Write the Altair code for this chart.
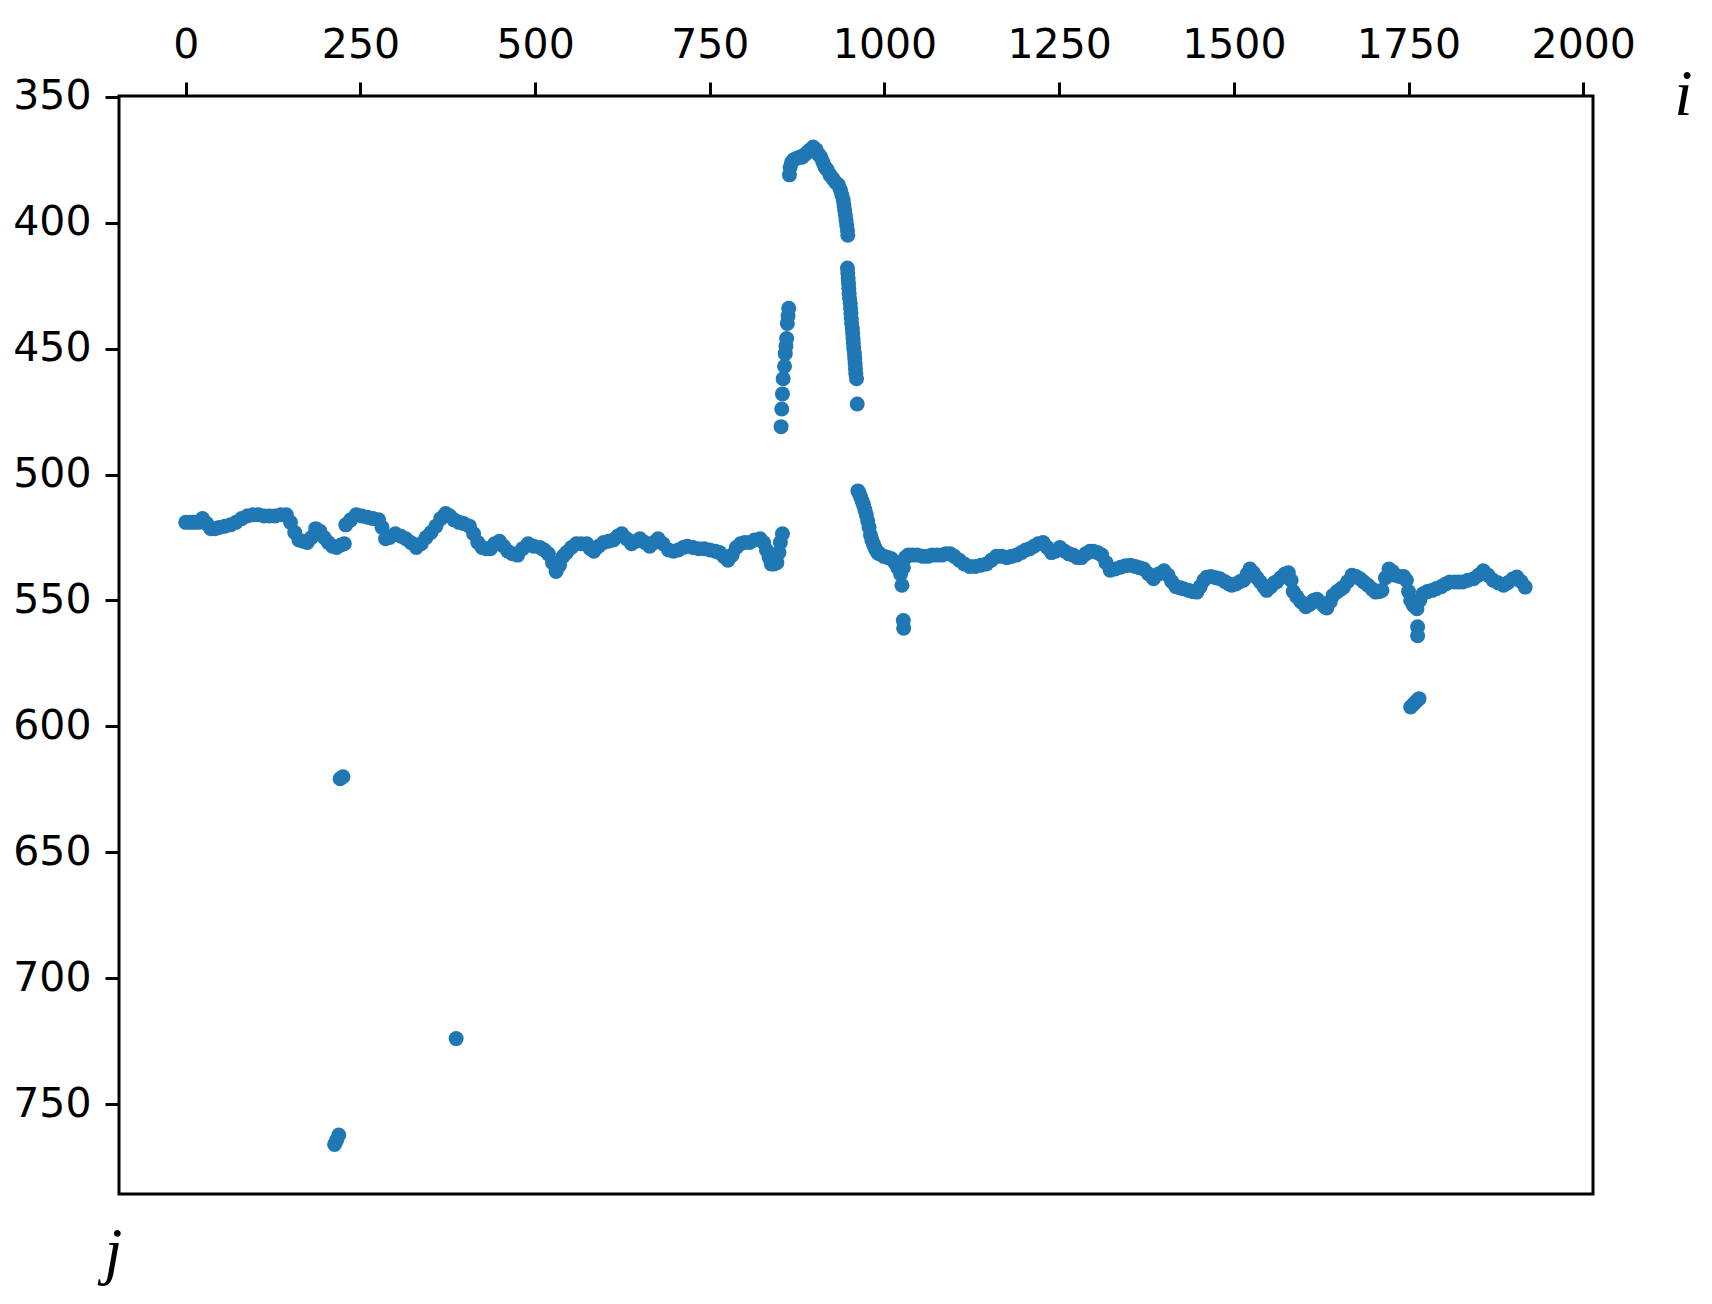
import altair as alt
import pandas as pd

# ---- data (i, j) ----
main_left = [(0,519),(6,519),(12,519),(18,519),(24,517.5),(30,519.5),(36,521.5),(42,521.5),(48,521),
             (56,520.5),(64,520),(72,519),(80,517.5),(88,516.5),(96,516),(104,516),(112,516.5),(120,516.5),
             (128,516.5),(136,516),(144,516),(150,519),(156,523),(162,526),(168,526.5),(174,527),(180,525),
             (186,521.5),(192,522.5),(198,525),(204,527),(210,528.5),(216,529),(222,528),(227,527.5)]

main_mid = [(229,520),(236,518),(244,516),(252,516.5),(260,517),(268,517.5),(276,518),(281,521),(286,525.5),
            (292,525),(300,523.5),(308,524.5),(315,525.5),(322,527),(330,529),(337,527.5),(344,525),(351,523),
            (358,520.5),(365,517.5),(372,515.5),(378,516.5),(384,518),(391,519),(398,519.5),(406,520.5),
            (412,523.5),(418,527),(424,529),(430,529.5),(436,529.5),(442,527.5),(449,526.5),(455,528.5),
            (461,530.5),(468,531.5),(475,532),(482,529.5),(490,527.5),(498,528.5),(507,529),(513,530),
            (519,531.5),(525,535),(530,538.5),(535,536),(540,532.5),(545,531),(552,529),(559,527.5),
            (566,527.5),(574,527.5),(579,529.5),(584,530.5),(591,528.5),(598,527),(605,526.5),(612,526),
            (618,524.5),(624,523.5),(631,525.5),(638,527.5),(644,526.5),(650,525.5),(657,527),(664,528.5),
            (670,527),(676,525.5),(683,527.5),(691,530),(698,530.5),(705,530),(712,529),(718,528.5),
            (726,529),(734,529.5),(742,529.5),(750,530),(758,530.5),(764,531),(770,532.5),(776,534),
            (782,532),(788,529),(794,527.5),(800,527),(807,527),(814,526),(822,525.5),(827,527),(831,530),
            (835,533),(838,535.5),(842,535.5),(846,535),(849,531),(851,527),(854,523.5)]

peak_rise = [(852,481),(853,474),(854,468),(855,462),(857,457),(858,452),(859,449),(860,446),(861,440),
             (862,437),(863,434)]

peak_arc = [(864,381),(865,378),(867,376),(870,375),(874,374.5),(878,374),(882,374),(886,373),(890,372),
            (894,371),(898,370),(902,371),(906,373),(909,374),(912,376),(915,378),(918,379),(922,381),
            (926,382.5),(930,384),(934,385),(937,387),(939,389),(941,391),(942,393),(943,395),(944,397),
            (945,399),(946,401),(947,403),(947.5,405)]

peak_fall = [(947,418),(947.5,420),(948,422),(948.5,424),(949,426),(949.5,428),(950,430),(951,432),
             (951.5,434),(952,436),(952.5,438),(953,440),(954,442),(954.5,444),(955,446),(955.5,448),
             (956,450),(957,452),(957.5,454),(958,456),(958.5,458),(959,460),(960,462),(961,472)]

recover = [(962,506.5),(964,507.5),(966,509),(968,510.5),(970,512),(972,514),(974,516),(976,518.5),
           (978,521),(980,524),(982,526),(984,527.5),(986,529),(988,530),(990,531),(993,531.5)]

main_right = [(999,532.5),(1005,533),(1010,533.5),(1015,535),(1019,537),(1023,539.5),(1027,537),(1030,533),
              (1034,532),(1040,532),(1047,532),(1055,532.5),(1062,532.5),(1068,532),(1075,532),(1082,532),
              (1088,531.5),(1094,531.5),(1100,532.5),(1107,534),(1114,535.5),(1122,536.5),(1130,536.5),
              (1138,536),(1146,535.5),(1153,534),(1160,532.5),(1168,532.5),(1175,533),(1182,532.5),
              (1189,532),(1196,531),(1202,530),(1208,529.5),(1214,528.5),(1220,527.5),(1227,527),
              (1233,529),(1239,531),(1245,530.5),(1251,529),(1258,530.5),(1264,531.5),(1270,532),
              (1276,533),(1282,533),(1288,531.5),(1294,530.5),(1299,530.5),(1305,531),(1311,532),
              (1317,535),(1323,538),(1330,537.5),(1338,536.8),(1345,536.2),(1352,536),(1359,536.5),
              (1365,537),(1371,537.5),(1378,539.5),(1385,541.4),(1392,539.5),(1400,538.2),(1406,540),
              (1411,542.5),(1417,544.5),(1423,545),(1428,545.4),(1435,546),(1441,546.5),(1447,546.7),
              (1452,544.5),(1457,542),(1461,540.8),(1467,540.5),(1474,541),(1480,541.4),(1487,542.5),
              (1493,543.5),(1497,544),(1503,543.5),(1509,542.5),(1514,542),(1519,539.5),(1523,537.5),
              (1528,539),(1533,541),(1538,542.7),(1543,544.5),(1547,546),(1553,544.5),(1558,543),
              (1561,542.7),(1567,541),(1573,539.5),(1578,539),(1582,542),(1585,546.5),(1590,548.5),
              (1596,550.5),(1603,552.5),(1609,551.5),(1614,550),(1619,549.5),(1625,551),(1630,552.5),
              (1633,553),(1638,550.5),(1642,548),(1648,546.5),(1653,545.5),(1657,544.7),(1663,542.5),
              (1669,540),(1675,540.5),(1681,541.5),(1686,542.7),(1692,544),(1698,545.5),(1703,546.7),
              (1708,546.5),(1712,546),(1717,541),(1722,537.5),(1727,538.5),(1731,540),(1737,540.5),
              (1743,540.5),(1747,542),(1750,546.5),(1753,550),(1757,552),(1762,553.3),(1766,550),
              (1771,547.3),(1777,546.5),(1784,546),(1790,545.3),(1797,544.5),(1803,543.5),(1809,542.7),
              (1816,542.7),(1822,542.7),(1828,542.7),(1835,542),(1843,541.4),(1850,540),(1857,538.2),
              (1864,540),(1871,542),(1878,543),(1886,544),(1892,543),(1899,541.5),(1905,540.7),
              (1911,542.5),(1917,544.7)]

stray_points = [(221,620.8),(225,620),(213,766),(216,764.3),(219,762.3),(387,724),
                (1025,544),(1027,558),(1027.5,561),(1763,560.5),(1763,564),
                (1753,592.3),(1757,591.2),(1761,590.1),(1765,589)]

x_ticks = [0, 250, 500, 750, 1000, 1250, 1500, 1750, 2000]
y_ticks = [350, 400, 450, 500, 550, 600, 650, 700, 750]

rows = []
for seg in (main_left, main_mid, peak_rise, peak_arc, peak_fall, recover, main_right, stray_points):
    rows.extend(seg)
df = pd.DataFrame(rows, columns=["i", "j"])

chart = (
    alt.Chart(df)
    .mark_circle(size=225, color="#1f77b4", opacity=1)
    .encode(
        x=alt.X(
            "i:Q",
            scale=alt.Scale(domain=[-95.5, 2014], nice=False, zero=False),
            axis=alt.Axis(
                orient="top", values=x_ticks, format="d", title="i", grid=False, domain=False,
                labelFont="DejaVu Sans", labelFontSize=41, labelColor="black",
                labelPadding=16, tickSize=14, tickWidth=3, tickColor="black",
                titleFont="Liberation Serif", titleFontStyle="italic", titleFontWeight="normal",
                titleFontSize=66, titleColor="black", titleX=1564, titleY=18,
                titleAlign="center", titleBaseline="alphabetic", titleAngle=0,
            ),
        ),
        y=alt.Y(
            "j:Q",
            scale=alt.Scale(domain=[349.7, 785.7], nice=False, zero=False, reverse=True),
            axis=alt.Axis(
                orient="left", values=y_ticks, format="d", title="j", grid=False, domain=False,
                labelFont="DejaVu Sans", labelFontSize=41, labelColor="black",
                labelPadding=14, tickSize=14, tickWidth=3, tickColor="black",
                titleFont="Liberation Serif", titleFontStyle="italic", titleFontWeight="normal",
                titleFontSize=64, titleColor="black", titleX=-6, titleY=1175,
                titleAlign="center", titleBaseline="alphabetic", titleAngle=0,
            ),
        ),
    )
    .properties(
        width=1474, height=1098,
        autosize=alt.AutoSizeParams(type="none"),
        padding={"left": 111, "top": 88, "right": 110, "bottom": 100},
    )
    .configure(background="white")
    .configure_view(stroke="black", strokeWidth=3, fill="white")
)

chart.save("out.html", embed_options={"renderer": "svg", "actions": False})
